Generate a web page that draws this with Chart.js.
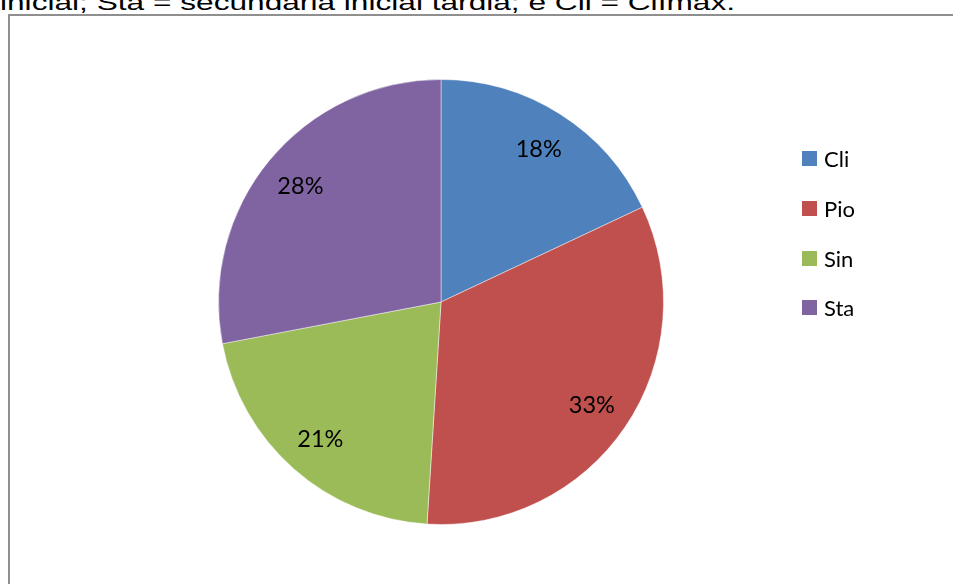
<!DOCTYPE html>
<html>
<head>
<meta charset="utf-8">
<script src="https://cdn.jsdelivr.net/npm/chart.js@4/dist/chart.umd.min.js"></script>
<style>
  html, body { margin: 0; padding: 0; background: #fff; width: 953px; height: 584px; overflow: hidden; }
  #caption {
    position: absolute; left: 0; top: -9px;
    font-family: "Liberation Sans", Arial, sans-serif; font-size: 22px; line-height: 24px;
    white-space: nowrap; color: #000; transform-origin: 0 0;
  }
  #frame {
    position: absolute; left: 8px; top: 14px; width: 980px; height: 600px;
    border: 2px solid #8f8f8f; box-sizing: border-box;
  }
  #wrap { position: absolute; left: 0; top: 0; width: 953px; height: 584px; }
  #legend {
    position: absolute; left: 802px; top: 134px;
    font-family: Lato, "Open Sans", sans-serif; font-size: 22px; color: #000;
  }
  #legend .row { display: flex; align-items: center; height: 49.7px; }
  #legend .key { width: 15px; height: 15px; margin-right: 7px; }
</style>
</head>
<body>
<div id="caption">inicial; Sta = secundária inicial tardia; e Cli = Clímax.</div>
<div id="frame"></div>
<div id="wrap"><canvas id="pie"></canvas></div>
<div id="legend"></div>
<script>
// Successional groups and their share of individuals (%)
const groups = ['Cli', 'Pio', 'Sin', 'Sta'];
const shares = [18, 33, 21, 28];
const groupColors = ['#4F81BD', '#C0504D', '#9BBB59', '#8064A2'];

// Percentage labels placed inside each slice
const pctLabels = {
  id: 'pctLabels',
  afterDatasetsDraw(chart) {
    const { ctx } = chart;
    const meta = chart.getDatasetMeta(0);
    ctx.save();
    ctx.font = '23.5px Lato, "Open Sans", sans-serif';
    ctx.fillStyle = '#000';
    ctx.textAlign = 'center';
    ctx.textBaseline = 'middle';
    meta.data.forEach((arc, i) => {
      const p = arc.getProps(['x', 'y', 'startAngle', 'endAngle', 'outerRadius'], true);
      const mid = (p.startAngle + p.endAngle) / 2;
      const r = p.outerRadius * 0.82;
      ctx.fillText(shares[i] + '%', p.x + Math.cos(mid) * r, p.y + Math.sin(mid) * r + 1);
    });
    ctx.restore();
  }
};

new Chart(document.getElementById('pie'), {
  type: 'pie',
  data: {
    labels: groups,
    datasets: [{
      data: shares,
      backgroundColor: groupColors,
      borderColor: 'rgba(255,255,255,0.45)',
      borderWidth: 1
    }]
  },
  options: {
    responsive: true,
    maintainAspectRatio: false,
    animation: false,
    layout: { padding: { left: 218, top: 79, right: 289, bottom: 59 } },
    plugins: {
      legend: { display: false },
      tooltip: { enabled: false }
    }
  },
  plugins: [pctLabels]
});

// Legend built from the same arrays
const legend = document.getElementById('legend');
groups.forEach((g, i) => {
  const row = document.createElement('div');
  row.className = 'row';
  const key = document.createElement('div');
  key.className = 'key';
  key.style.background = groupColors[i];
  const txt = document.createElement('span');
  txt.textContent = g;
  row.appendChild(key);
  row.appendChild(txt);
  legend.appendChild(row);
});

// Fit the caption line to its column width
const cap = document.getElementById('caption');
const w = cap.getBoundingClientRect().width;
cap.style.transform = 'scaleX(' + (735 / w) + ')';
</script>
</body>
</html>
